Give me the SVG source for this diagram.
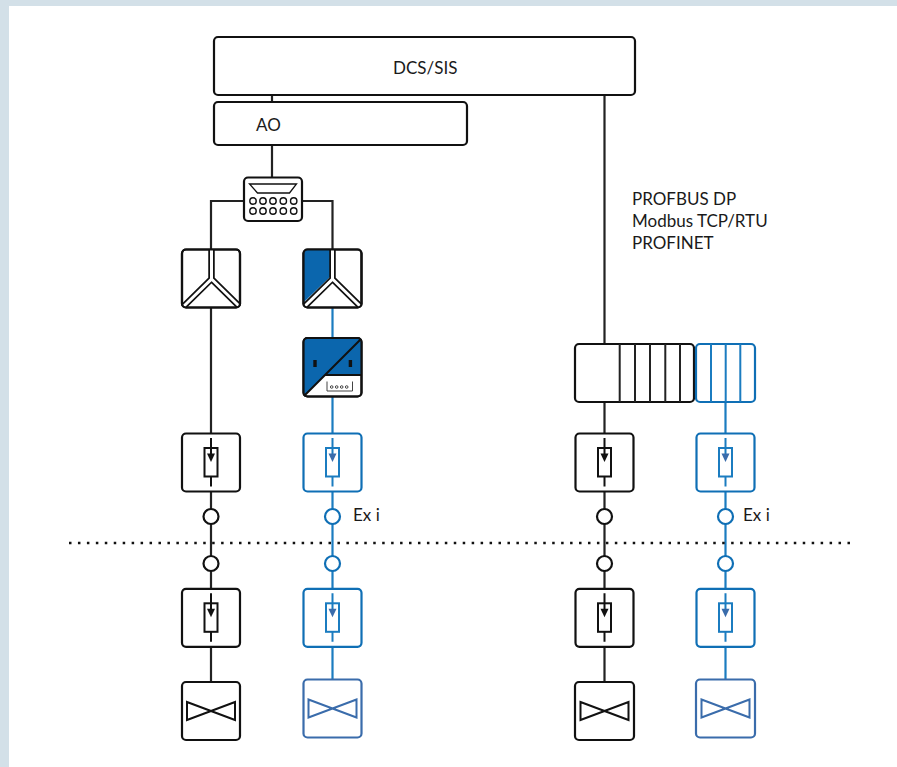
<svg xmlns="http://www.w3.org/2000/svg" width="897" height="767" viewBox="0 0 897 767">
<style>
.b{fill:#fff;stroke:#111;stroke-width:2.200}
.c{fill:#fff;stroke:#0f6fb5;stroke-width:2.200}
.v{fill:#fff;stroke:#3a6cab;stroke-width:2.200}
.lk{fill:none;stroke:#222;stroke-width:2.200}
.lc{fill:none;stroke:#1b7cc0;stroke-width:2.200}
text{font-family:"Lato","Noto Sans",sans-serif;font-size:17px;fill:#1a1a1a}
</style>
<defs>
<g id="sb"><rect x="-29" y="-29" width="58" height="58" rx="4" class="b"/><rect x="-6.500" y="-14.500" width="13" height="28.500" fill="#fff" stroke="#111" stroke-width="2"/><path d="M0-24.500V-6M0 14V24" stroke="#111" stroke-width="2"/><path d="M-4-9H4L0-.5Z" fill="#111"/></g>
<g id="sc"><rect x="-29" y="-29" width="58" height="58" rx="4" class="c"/><rect x="-6.500" y="-14.500" width="13" height="28.500" fill="#fff" stroke="#1b7cc0" stroke-width="2"/><path d="M0-24.500V-6M0 14V24" stroke="#1b7cc0" stroke-width="2"/><path d="M-4-9H4L0-.5Z" fill="#3a6cab"/></g>
<path id="bow" d="M-24-9V9L24-9V9Z" fill="#fff" stroke-width="2"/>
</defs>
<rect width="897" height="767" fill="#d3e0e8"/>
<rect x="9" y="6" width="888" height="761" fill="#fff"/>

<g id="connectors">
<path class="lk" d="M272 96V102M272 145V178M244 201H211V250M302 201H332.500V250M211 307V434M604.500 96V345M604.500 402V434M211 492V510M211 523V557M211 570V589M211 647V682M604.500 492V510M604.500 523V557M604.500 570V589M604.500 647V682"/>
<path class="lc" d="M332.500 308V338M332.500 396V434M332.500 492V510M332.500 523V557M332.500 570V589M332.500 647V680M725.500 402V434M725.500 492V510M725.500 523V557M725.500 570V589M725.500 647V680"/>
<path d="M69 543H851" fill="none" stroke="#111" stroke-width="2.500" stroke-dasharray="2.500 6.448"/>
</g>

<g id="dcs"><rect x="214" y="37" width="421" height="58" rx="4" class="b"/><text x="393" y="74">DCS/SIS</text></g>
<g id="ao"><rect x="214" y="102" width="253" height="43" rx="4" class="b"/><text x="256" y="131">AO</text></g>
<text x="632" y="205">PROFBUS DP</text>
<text x="632" y="227">Modbus TCP/RTU</text>
<text x="632" y="249">PROFINET</text>

<g id="splitter">
<rect x="244" y="177.500" width="58" height="43.500" rx="4" class="b"/>
<path d="M249.500 184H296.500L289.500 193H257.500Z" fill="#fff" stroke="#111" stroke-width="1.300"/>
<g fill="#fff" stroke="#111" stroke-width="1.400"><circle cx="253" cy="201" r="3.200"/><circle cx="263" cy="201" r="3.200"/><circle cx="273" cy="201" r="3.200"/><circle cx="283.300" cy="201" r="3.200"/><circle cx="293.700" cy="201" r="3.200"/><circle cx="253" cy="211" r="3.200"/><circle cx="263" cy="211" r="3.200"/><circle cx="273" cy="211" r="3.200"/><circle cx="283.300" cy="211" r="3.200"/><circle cx="293.700" cy="211" r="3.200"/></g>
</g>

<g id="iso1">
<rect x="182" y="249.500" width="58" height="58" rx="4" class="b"/>
<path d="M211.500 250V279L184 306M211.500 279L239 306" fill="none" stroke="#111" stroke-width="6.500"/>
<path d="M211.500 249V279L184 306M211.500 279L239 306" fill="none" stroke="#fff" stroke-width="3"/>
<rect x="182" y="249.500" width="58" height="58" rx="4" fill="none" stroke="#111" stroke-width="2.200"/>
</g>
<g id="iso2">
<rect x="303.500" y="249.500" width="58" height="58" rx="4" class="b"/>
<path d="M304 254Q304 250 308 250H331V276L304 302Z" fill="#0b66ad"/>
<path d="M332.500 250V279L305 306M332.500 279L360 306" fill="none" stroke="#111" stroke-width="6.500"/>
<path d="M332.500 249V279L305 306M332.500 279L360 306" fill="none" stroke="#fff" stroke-width="3"/>
<rect x="303.500" y="249.500" width="58" height="58" rx="4" fill="none" stroke="#111" stroke-width="2.200"/>
</g>
<g id="conv">
<rect x="303.500" y="338" width="58" height="58.500" rx="4" fill="#fff" stroke="#111" stroke-width="2"/>
<path d="M304 342Q304 338 308 338H361V375H325L304 396Z" fill="#0b66ad"/>
<path d="M304 396L361 339M325 375H361" fill="none" stroke="#111" stroke-width="2"/>
<rect x="313.300" y="360" width="3.400" height="7" fill="#111"/><rect x="348.700" y="360" width="3.400" height="7" fill="#111"/>
<path d="M327 381.500V391H352.500V381.500" fill="none" stroke="#444" stroke-width="1"/>
<g fill="none" stroke="#444" stroke-width="1"><circle cx="331.700" cy="387" r="1.300"/><circle cx="336.700" cy="387" r="1.300"/><circle cx="341.700" cy="387" r="1.300"/><circle cx="346.700" cy="387" r="1.300"/></g>
<rect x="303.500" y="338" width="58" height="58.500" rx="4" fill="none" stroke="#111" stroke-width="2.200"/>
</g>

<g id="io-black">
<rect x="575" y="344" width="119" height="58" rx="4" class="b"/>
<path d="M619.700 344V402M635 344V402M650 344V402M665.300 344V402M680 344V402" stroke="#222" stroke-width="2"/>
</g>
<g id="io-blue">
<rect x="696" y="344" width="59" height="58" rx="4" class="c"/>
<path d="M711 344V402M725.700 344V402M740.300 344V402" stroke="#1b7cc0" stroke-width="2"/>
</g>

<g id="s1"><use href="#sb" x="211" y="462.500"/></g>
<g id="s2"><use href="#sc" x="332.500" y="462.500"/></g>
<g id="s3"><use href="#sb" x="604.500" y="462.500"/></g>
<g id="s4"><use href="#sc" x="725.500" y="462.500"/></g>
<g id="s5"><use href="#sb" x="211" y="617.800"/></g>
<g id="s6"><use href="#sc" x="332.500" y="617.800"/></g>
<g id="s7"><use href="#sb" x="604.500" y="617.800"/></g>
<g id="s8"><use href="#sc" x="725.500" y="617.800"/></g>

<g id="terminals">
<circle cx="211" cy="516.500" r="7.500" class="b"/><circle cx="211" cy="563.500" r="7.500" class="b"/>
<circle cx="604.500" cy="516.500" r="7.500" class="b"/><circle cx="604.500" cy="563.500" r="7.500" class="b"/>
<circle cx="332.500" cy="516.500" r="7.500" class="c"/><circle cx="332.500" cy="563.500" r="7.500" class="c"/>
<circle cx="725.500" cy="516.500" r="7.500" class="c"/><circle cx="725.500" cy="563.500" r="7.500" class="c"/>
</g>
<text x="353" y="521">Ex i</text>
<text x="743" y="521">Ex i</text>

<g id="v1"><rect x="182" y="682" width="58" height="58" rx="4" class="b"/><use href="#bow" x="211" y="711" stroke="#111"/></g>
<g id="v2"><rect x="303.500" y="679.500" width="58" height="58" rx="4" class="v"/><use href="#bow" x="332.500" y="708.500" stroke="#3a6cab"/></g>
<g id="v3"><rect x="575" y="682" width="59" height="58" rx="4" class="b"/><use href="#bow" x="604.500" y="711" stroke="#111"/></g>
<g id="v4"><rect x="696" y="679.500" width="59" height="58" rx="4" class="v"/><use href="#bow" x="725.500" y="708.500" stroke="#3a6cab"/></g>
</svg>
